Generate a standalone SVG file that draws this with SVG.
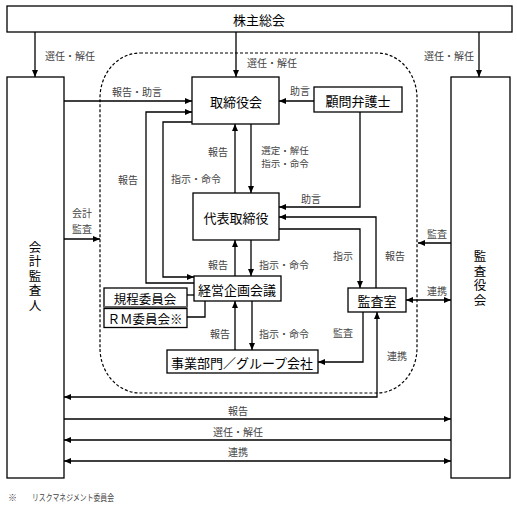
<svg xmlns="http://www.w3.org/2000/svg" width="517" height="507" viewBox="0 0 517 507">
<style>
.box{fill:#fff;stroke:#000;stroke-width:1.3}
.bt{font-family:"Noto Sans CJK JP","Noto Sans",sans-serif;font-size:13px;fill:#000;text-anchor:middle;dominant-baseline:central}
.vt{font-family:"Noto Sans CJK JP","Noto Sans",sans-serif;font-size:12.5px;fill:#000;text-anchor:middle;writing-mode:vertical-rl;letter-spacing:2px}
.lb{font-family:"Noto Sans CJK JP","Noto Sans",sans-serif;font-size:10px;fill:#444;text-anchor:middle;dominant-baseline:central}
.ln{fill:none;stroke:#000;stroke-width:1.3}
.a{marker-end:url(#ah)}
.b{marker-start:url(#ah);marker-end:url(#ah)}
</style>
<defs>
<marker id="ah" markerUnits="userSpaceOnUse" markerWidth="8" markerHeight="7" refX="7" refY="3" orient="auto-start-reverse">
<path d="M0,0 L7,3 L0,6 z" fill="#000"/>
</marker>
</defs>
<rect width="517" height="507" fill="#fff"/>
<rect x="100" y="53" width="317" height="340" rx="40" ry="45" fill="none" stroke="#000" stroke-width="1.2" stroke-dasharray="3,2"/>
<g id="connectors">
<path class="ln a" d="M35,32 V77"/>
<path class="ln a" d="M236,32 V77"/>
<path class="ln a" d="M479,32 V77"/>
<path class="ln a" d="M64,101 H192"/>
<path class="ln a" d="M314,101 H279"/>
<path class="ln a" d="M194,283 H146 V112 H192"/>
<path class="ln a" d="M192,122 H163 V277 H194"/>
<path class="ln a" d="M235,193 V124"/>
<path class="ln a" d="M251,124 V193"/>
<path class="ln a" d="M360,112 V207 H279"/>
<path class="ln a" d="M376,288 V217 H279"/>
<path class="ln a" d="M279,229 H360 V288"/>
<path class="ln a" d="M235,276 V240"/>
<path class="ln a" d="M251,240 V276"/>
<path class="ln a" d="M235,350 V301"/>
<path class="ln a" d="M252,301 V350"/>
<path class="ln" d="M187,295 H194"/>
<path class="ln" d="M187,317 H205 V301"/>
<path class="ln a" d="M64,239 H100"/>
<path class="ln a" d="M451,243 H418"/>
<path class="ln b" d="M406,300 H451"/>
<path class="ln a" d="M363,312 V362 H318"/>
<path class="ln b" d="M377,312 V397 H64"/>
<path class="ln a" d="M64,419 H451"/>
<path class="ln a" d="M451,440 H64"/>
<path class="ln b" d="M64,461 H451"/>
</g>
<g id="labels">
<text class="lb" x="70" y="55">選任・解任</text>
<text class="lb" x="272" y="62">選任・解任</text>
<text class="lb" x="449" y="55">選任・解任</text>
<text class="lb" x="137" y="91">報告・助言</text>
<text class="lb" x="300" y="90">助言</text>
<text class="lb" x="218" y="151">報告</text>
<text class="lb" style="font-size:9.5px"><tspan x="285" y="150">選定・解任</tspan><tspan x="285" y="163">指示・命令</tspan></text>
<text class="lb" x="128" y="179">報告</text>
<text class="lb" x="196" y="178">指示・命令</text>
<text class="lb" x="311" y="198">助言</text>
<text class="lb"><tspan x="82" y="212">会計</tspan><tspan x="82" y="228">監査</tspan></text>
<text class="lb" x="437" y="233">監査</text>
<text class="lb" x="343" y="255">指示</text>
<text class="lb" x="395" y="255">報告</text>
<text class="lb" x="218" y="264">報告</text>
<text class="lb" x="284" y="264">指示・命令</text>
<text class="lb" x="437" y="290">連携</text>
<text class="lb" x="220" y="333">報告</text>
<text class="lb" x="284" y="333">指示・命令</text>
<text class="lb" x="343" y="332">監査</text>
<text class="lb" x="397" y="355">連携</text>
<text class="lb" x="238" y="410">報告</text>
<text class="lb" x="238" y="431">選任・解任</text>
<text class="lb" x="238" y="451">連携</text>
</g>
<g id="kabunushi">
<rect class="box" x="7" y="6" width="505" height="26"/>
<text class="bt" x="259" y="19">株主総会</text>
</g>
<g id="kaikei">
<rect class="box" x="7" y="77" width="57" height="401"/>
<text class="vt" x="35" y="277">会計監査人</text>
</g>
<g id="kansayaku">
<rect class="box" x="451" y="77" width="59" height="401"/>
<text class="vt" x="480" y="279">監査役会</text>
</g>
<g id="torishimariyakukai">
<rect class="box" x="192" y="77" width="87" height="47"/>
<text class="bt" x="236" y="101">取締役会</text>
</g>
<g id="komon">
<rect class="box" x="314" y="87" width="88" height="25"/>
<text class="bt" x="358" y="100">顧問弁護士</text>
</g>
<g id="daihyo">
<rect class="box" x="193" y="193" width="86" height="47"/>
<text class="bt" x="236" y="217">代表取締役</text>
</g>
<g id="keiei">
<rect class="box" x="194" y="276" width="87" height="25"/>
<text class="bt" x="237" y="289">経営企画会議</text>
</g>
<g id="kitei">
<rect class="box" x="104" y="288" width="83" height="19"/>
<text class="bt" x="145" y="298" style="font-size:12.5px">規程委員会</text>
</g>
<g id="rm">
<rect x="104" y="306" width="83" height="2.5" fill="#666"/>
<rect class="box" x="104" y="308.5" width="83" height="19"/>
<text class="bt" x="145" y="318" style="font-size:12.5px">ＲＭ委員会※</text>
</g>
<g id="kansashitsu">
<rect class="box" x="348" y="288" width="58" height="24"/>
<text class="bt" x="377" y="300">監査室</text>
</g>
<g id="jigyo">
<rect class="box" x="167" y="350" width="151" height="23"/>
<text class="bt" x="242" y="362">事業部門／グループ会社</text>
</g>
<text class="lb" x="8" y="497" style="text-anchor:start;font-size:9px">※</text>
<text class="lb" x="32" y="497" style="text-anchor:start;font-size:9px" textLength="82" lengthAdjust="spacingAndGlyphs">リスクマネジメント委員会</text>
</svg>
